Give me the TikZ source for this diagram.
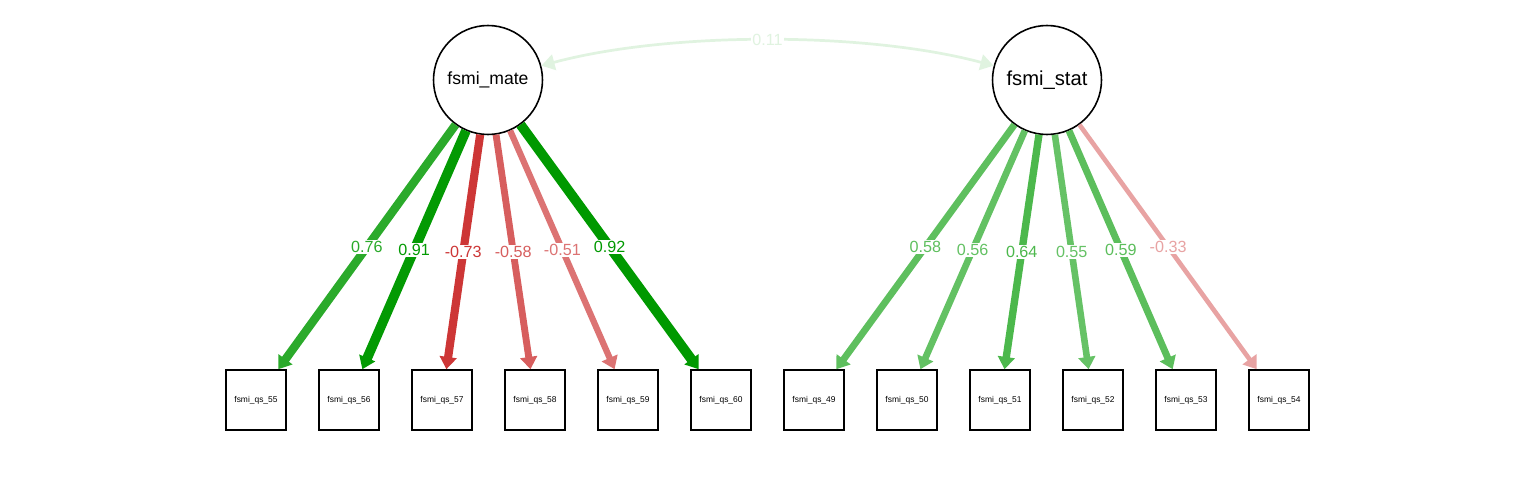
\documentclass[tikz,border=0pt]{standalone}
\usepackage{fontspec}
\setmainfont{Liberation Sans}
\usetikzlibrary{arrows.meta}
\definecolor{ink}{HTML}{000000}
\definecolor{posc}{HTML}{009900}
\definecolor{negc}{HTML}{BF0000}
\tikzset{
  every node/.style={font=\rmfamily},
  lat/.style={draw=ink, line width=0.9pt, circle, minimum size=2.18cm, inner sep=0pt,
              fill=white, font=\fontsize{10}{12}\selectfont},
  obs/.style={draw=ink, line width=0.9pt, rectangle, minimum size=1.2cm, inner sep=0pt,
              fill=white, font=\fontsize{4.8}{6}\selectfont},
  load/.style={-{Triangle[length=7pt, width=9.5pt]}},
  cov/.style={{Triangle[length=7.5pt, width=9pt]}-{Triangle[length=7.5pt, width=9pt]}},
  lbl/.style={fill=white, inner sep=0.6pt, font=\fontsize{9.2}{10}\selectfont},
}

\begin{document}
\begin{tikzpicture}[x=0.02cm, y=-0.02cm]
\useasboundingbox (0,0) rectangle (1536,480);

% latent factors
\node[lat] (mate) at (488,80) {fsmi\_mate};
\node[lat, font=\fontsize{11.5}{13}\selectfont] (stat) at (1047,80) {fsmi\_stat};

% indicators
\node[obs] (q55) at (256,400) {fsmi\_qs\_55};
\node[obs] (q56) at (349,400) {fsmi\_qs\_56};
\node[obs] (q57) at (442,400) {fsmi\_qs\_57};
\node[obs] (q58) at (535,400) {fsmi\_qs\_58};
\node[obs] (q59) at (628,400) {fsmi\_qs\_59};
\node[obs] (q60) at (721,400) {fsmi\_qs\_60};
\node[obs] (q49) at (814,400) {fsmi\_qs\_49};
\node[obs] (q50) at (907,400) {fsmi\_qs\_50};
\node[obs] (q51) at (1000,400) {fsmi\_qs\_51};
\node[obs] (q52) at (1093,400) {fsmi\_qs\_52};
\node[obs] (q53) at (1186,400) {fsmi\_qs\_53};
\node[obs] (q54) at (1279,400) {fsmi\_qs\_54};

% loadings
\draw[load, posc!83, line width=4.8pt] (mate) -- node[lbl]{0.76} (q55);
\draw[load, posc!99, line width=5.55pt] (mate) -- node[lbl]{0.91} (q56);
\draw[load, negc!79, line width=4.65pt] (mate) -- node[lbl]{-0.73} (q57);
\draw[load, negc!63, line width=3.9pt] (mate) -- node[lbl]{-0.58} (q58);
\draw[load, negc!55, line width=3.55pt] (mate) -- node[lbl]{-0.51} (q59);
\draw[load, posc, line width=5.6pt] (mate) -- node[lbl]{0.92} (q60);

\draw[load, posc!63, line width=3.9pt] (stat) -- node[lbl]{0.58} (q49);
\draw[load, posc!61, line width=3.8pt] (stat) -- node[lbl]{0.56} (q50);
\draw[load, posc!70, line width=4.2pt] (stat) -- node[lbl]{0.64} (q51);
\draw[load, posc!60, line width=3.75pt] (stat) -- node[lbl]{0.55} (q52);
\draw[load, posc!64, line width=3.95pt] (stat) -- node[lbl]{0.59} (q53);
\draw[load, negc!36, line width=2.65pt] (stat) -- node[lbl]{-0.33} (q54);

% factor covariance
\draw[cov, posc!12, line width=1.55pt] (mate) to[out=15, in=165, looseness=0.75]
  node[lbl]{0.11} (stat);

\end{tikzpicture}
\end{document}
